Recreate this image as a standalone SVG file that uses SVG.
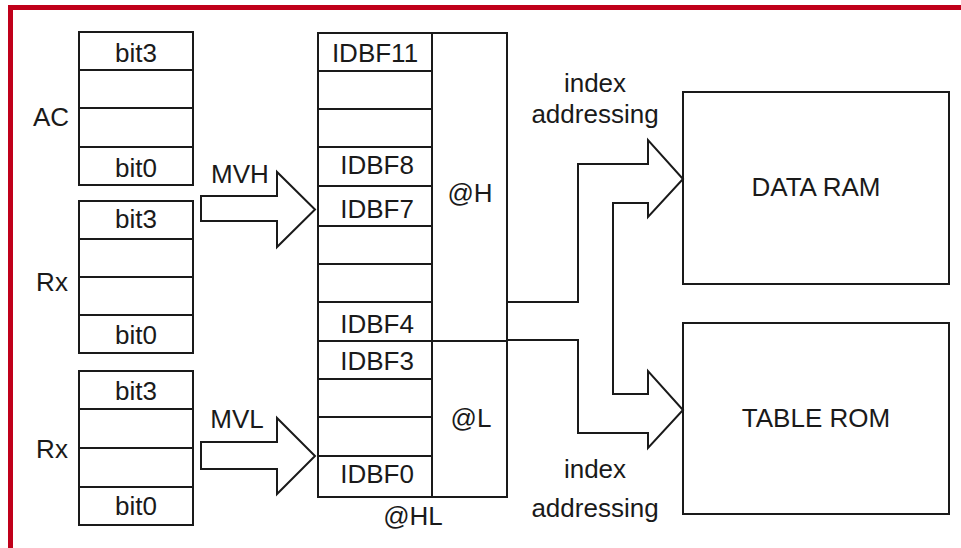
<svg xmlns="http://www.w3.org/2000/svg" width="961" height="548" viewBox="0 0 961 548">
<style>
.ln{fill:none;stroke:#1a1a1a;stroke-width:2;}
.bx{fill:#fff;stroke:#1a1a1a;stroke-width:2;}
.t{font-family:"Liberation Sans",Arial,sans-serif;font-size:26px;fill:#1a1a1a;text-anchor:middle;}
</style>
<rect x="0" y="0" width="961" height="548" fill="#fff"/>
<g id="frame">
<rect x="8" y="5" width="953" height="5" fill="#c0001a"/>
<rect x="8" y="5" width="5" height="543" fill="#c0001a"/>
</g>
<g id="AC">
<rect class="bx" x="79" y="32" width="114" height="153"/>
<path class="ln" d="M79 70H193M79 108H193M79 147H193"/>
<text class="t" x="136" y="62">bit3</text>
<text class="t" x="136" y="177">bit0</text>
<text class="t" x="51" y="126">AC</text>
</g>
<g id="Rx1">
<rect class="bx" x="79" y="201" width="114" height="152"/>
<path class="ln" d="M79 239H193M79 277H193M79 315H193"/>
<text class="t" x="136" y="228">bit3</text>
<text class="t" x="136" y="344">bit0</text>
<text class="t" x="52" y="291">Rx</text>
</g>
<g id="Rx2">
<rect class="bx" x="79" y="371" width="114" height="154"/>
<path class="ln" d="M79 409H193M79 448H193M79 487H193"/>
<text class="t" x="136" y="400">bit3</text>
<text class="t" x="136" y="515">bit0</text>
<text class="t" x="52" y="458">Rx</text>
</g>
<g id="IDBF">
<rect class="bx" x="318" y="33" width="189" height="464"/>
<path class="ln" d="M432 33V497M318 71H432M318 109H432M318 147H432M318 186H432M318 226H432M318 264H432M318 302H432M318 341H507M318 379H432M318 417H432M318 456H432"/>
<text class="t" x="375" y="62">IDBF11</text>
<text class="t" x="377" y="174">IDBF8</text>
<text class="t" x="377" y="218">IDBF7</text>
<text class="t" x="377" y="333">IDBF4</text>
<text class="t" x="377" y="370">IDBF3</text>
<text class="t" x="377" y="483">IDBF0</text>
<text class="t" x="470" y="202">@H</text>
<text class="t" x="471" y="427">@L</text>
<text class="t" x="413" y="525">@HL</text>
</g>
<g id="DATARAM">
<rect class="bx" x="683" y="92" width="266" height="192"/>
<text class="t" x="816" y="196">DATA RAM</text>
</g>
<g id="TABLEROM">
<rect class="bx" x="683" y="323" width="266" height="191"/>
<text class="t" x="816" y="427">TABLE ROM</text>
</g>
<g id="connectors">
<path class="ln" d="M201 196H277V172L315 209.5L277 247V221H201Z"/>
<path class="ln" d="M201 442H277V418L315 456L277 494V469H201Z"/>
<path class="ln" d="M507 302H578V164H648V140L683 179L648 217V203H613V394H648V371L683 410L648 448V433H578V340H507"/>
<text class="t" x="240" y="183">MVH</text>
<text class="t" x="237" y="428">MVL</text>
<text class="t" x="595" y="92">index</text>
<text class="t" x="595" y="123">addressing</text>
<text class="t" x="595" y="478">index</text>
<text class="t" x="595" y="517">addressing</text>
</g>
</svg>
